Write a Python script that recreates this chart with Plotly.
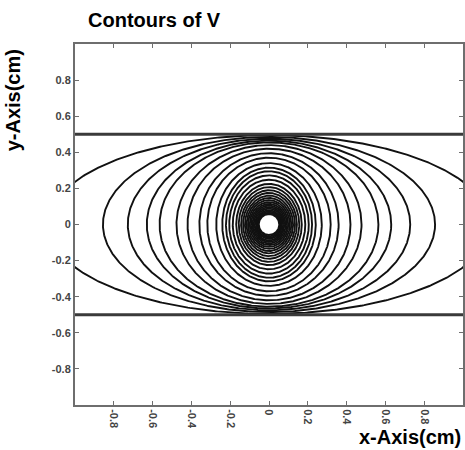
import numpy as np
import plotly.graph_objects as go

# Semi-axes of the contour ellipses of V, outer to inner
x_semi_axes = [1.14, 0.856, 0.728, 0.63, 0.564, 0.477, 0.42, 0.359, 0.318, 0.272,
               0.241, 0.222, 0.205, 0.187, 0.169, 0.156, 0.144, 0.134, 0.124, 0.115,
               0.107, 0.099, 0.092, 0.085, 0.079, 0.073, 0.067, 0.062, 0.057, 0.053]
y_semi_axes = [0.495, 0.485, 0.475, 0.465, 0.455, 0.44, 0.42, 0.395, 0.37, 0.34,
               0.315, 0.295, 0.272, 0.248, 0.225, 0.207, 0.19, 0.175, 0.16, 0.147,
               0.135, 0.124, 0.114, 0.105, 0.096, 0.088, 0.079, 0.072, 0.065, 0.058]
# Plate positions (horizontal boundary lines)
plate_y = [0.5, -0.5]
x_tick_vals = [-0.8, -0.6, -0.4, -0.2, 0, 0.2, 0.4, 0.6, 0.8]
x_tick_text = ["-0.8", "-0.6", "-0.4", "-0.2", "0", "0.2", "0.4", "0.6", "0.8"]
y_tick_vals = [0.8, 0.6, 0.4, 0.2, 0, -0.2, -0.4, -0.6, -0.8]
y_tick_text = ["0.8", "0.6", "0.4", "0.2", "0", "-0.2", "-0.4", "-0.6", "-0.8"]

fig = go.Figure()
theta = np.linspace(0, 2 * np.pi, 721)
for a, b in zip(x_semi_axes, y_semi_axes):
    fig.add_trace(go.Scatter(x=a * np.cos(theta), y=b * np.sin(theta), mode="lines",
                             line=dict(color="#111111", width=1.9),
                             showlegend=False, hoverinfo="skip"))
for py in plate_y:
    fig.add_trace(go.Scatter(x=[-1, 1], y=[py, py], mode="lines",
                             line=dict(color="#3a3a3a", width=3),
                             showlegend=False, hoverinfo="skip"))

axis_common = dict(showgrid=False, zeroline=False, showline=True, mirror="ticks",
                   linecolor="#6e6e6e", linewidth=2, ticks="inside", ticklen=4,
                   tickcolor="#6e6e6e", tickwidth=1)
tick_font = dict(family="Liberation Sans, Arial", size=11, color="#444444", weight="bold")
fig.update_xaxes(range=[-1, 1], tickvals=x_tick_vals, ticktext=x_tick_text,
                 tickangle=90, tickfont=tick_font, **axis_common)
fig.update_yaxes(range=[-1, 1], tickvals=y_tick_vals, ticktext=y_tick_text,
                 tickfont=tick_font, **axis_common)

title_font = dict(family="Liberation Sans, Arial", size=20, color="black")
fig.update_layout(
    width=465, height=450,
    margin=dict(l=75, r=0, t=44, b=45),
    plot_bgcolor="white", paper_bgcolor="white",
    font=dict(family="Liberation Sans, Arial", color="black"),
    annotations=[
        dict(text="<b>Contours of V</b>", xref="paper", yref="paper",
             x=(86 - 75) / 390, y=1 + (44 - 20) / 361, xanchor="left", yanchor="middle",
             showarrow=False, font=title_font),
        dict(text="<b>y-Axis(cm)</b>", xref="paper", yref="paper",
             x=-(75 - 13) / 390, y=(405 - 100) / 361, xanchor="center", yanchor="middle",
             textangle=-90, showarrow=False, font=title_font),
        dict(text="<b>x-Axis(cm)</b>", xref="paper", yref="paper",
             x=1, y=-(437 - 405) / 361, xanchor="right", yanchor="middle",
             showarrow=False, font=title_font),
    ],
)

fig.write_html("out.html", config={"displayModeBar": False},
               post_script="document.body.style.margin='0';document.body.style.overflow='hidden';")
